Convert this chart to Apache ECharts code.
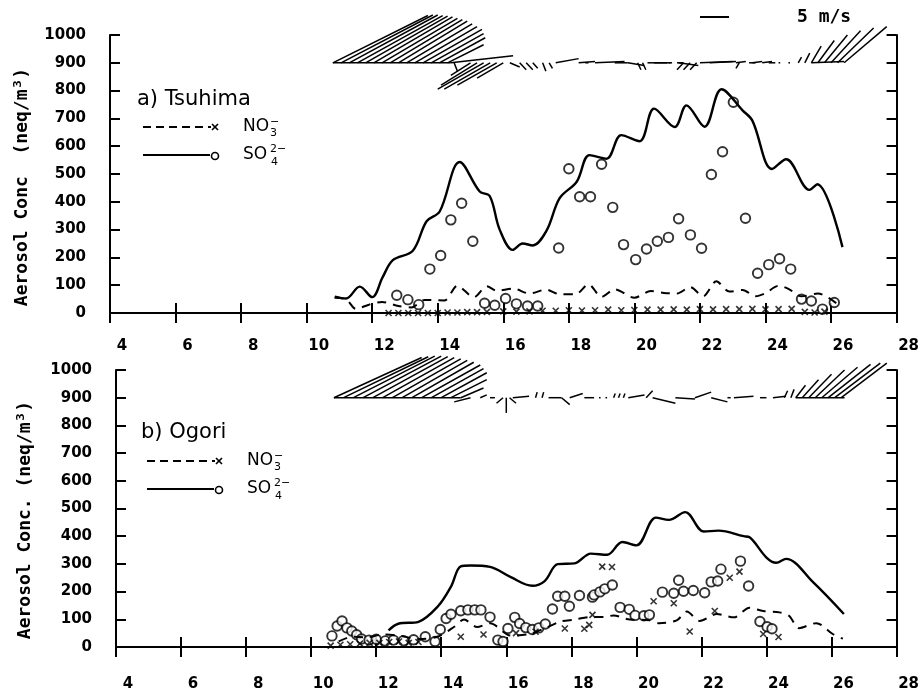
<!DOCTYPE html>
<html>
<head>
<meta charset="utf-8">
<script src="https://cdn.jsdelivr.net/npm/echarts@6/dist/echarts.min.js"></script>
<style>
  body{margin:0;background:#fff;}
  #main{width:922px;height:697px;}
</style>
</head>
<body>
<div id="main"></div>
<script>
// axis ranges (day of month, neq/m3)
const xMin = 4, xMax = 28, xStep = 2;
const yMin = 0, yMax = 1000, yStep = 100;
const windLevel = 900;

// ---- a) Tsuhima ----
const tsuSO4ModelT = [10.86,11.2,11.62,12.0,12.32,12.63,13.24,13.66,14.06,14.67,15.28,15.59,15.89,16.29,16.59,16.9,17.32,17.72,18.24,18.63,19.15,19.6,20.16,20.6,21.23,21.59,22.14,22.66,23.3,23.6,24.2,24.63,25.34,25.58,26.35];
const tsuSO4ModelV = [59,52,95,57,129,190,224,330,365,543,437,420,300,227,250,243,296,413,472,568,555,640,618,735,669,747,670,805,729,692,518,553,443,463,237];

const tsuNO3ModelT = [10.85,11.2,11.5,11.9,12.3,12.8,13.2,13.6,14.2,14.6,15.1,15.5,15.8,16.3,16.8,17.3,17.7,18.2,18.6,19.0,19.4,20.0,20.5,20.9,21.3,21.7,22.1,22.5,22.9,23.3,23.7,24.0,24.4,24.7,25.1,25.6,26.2];
const tsuNO3ModelV = [55,50,15,30,40,25,20,47,45,98,57,96,80,88,70,84,68,67,103,58,85,55,79,72,70,93,60,114,77,83,60,71,98,87,60,70,32];

const tsuSO4ObsT = [12.75,13.09,13.42,13.76,14.09,14.4,14.73,15.07,15.43,15.74,16.07,16.4,16.74,17.05,17.69,18.0,18.33,18.66,19.0,19.34,19.67,20.04,20.37,20.7,21.04,21.35,21.71,22.05,22.35,22.69,23.02,23.39,23.76,24.1,24.43,24.77,25.1,25.4,25.74,26.1];
const tsuSO4ObsV = [64,48,30,158,207,335,395,258,35,28,52,33,25,25,234,519,418,418,535,380,246,192,230,258,272,339,281,233,498,580,758,341,143,174,195,158,50,43,14,38];

const tsuNO3ObsT = [12.5,12.8,13.1,13.4,13.7,14.0,14.3,14.6,14.9,15.2,15.5,16.0,16.4,16.8,17.2,17.6,18.0,18.4,18.8,19.2,19.6,20.0,20.4,20.8,21.2,21.6,22.0,22.4,22.8,23.2,23.6,24.0,24.4,24.8,25.2,25.5,25.8];
const tsuNO3ObsV = [0,0,0,0,0,0,2,2,3,3,4,6,5,6,8,8,10,9,10,12,10,11,12,12,13,12,14,13,14,14,15,13,14,15,4,2,5];

// wind sticks: start day, length along x (days), length along y (conc units)
const tsuWindT  = [10.8,10.8,11.05,11.3,11.55,11.8,12.05,12.3,12.55,12.8,13.05,13.3,13.55,13.8,14.05,14.3,14.5,14.4,15.0,15.2,15.4,15.6,15.8,16.0,16.2,16.5,16.7,16.9,17.2,17.4,17.6,18.3,18.5,18.8,19.4,19.8,20.1,20.25,20.4,20.6,21.05,21.3,21.35,21.5,21.7,21.9,22.0,22.3,23.1,23.2,23.5,23.6,23.9,24.1,24.4,24.7,25.0,25.2,25.4,25.4,25.6,25.8,26.0,26.2,26.4];
const tsuWindDx = [3.6,2.9,2.8,2.7,2.6,2.5,2.4,2.3,2.2,2.1,2.0,1.9,1.8,1.6,1.4,1.1,0.1,1.9,-0.6,-1.1,-1.4,-1.4,-1.2,-0.8,0.3,0.2,0.2,0.15,0.1,0.1,0.7,0.5,0.1,0.9,0.4,0.5,0.1,0.1,0.6,0.5,0.1,0.2,0.6,-0.2,-0.2,-0.2,1.0,0.8,0.3,-0.1,0.2,0.3,0.3,0.2,0.05,0.05,0.1,0.15,1.0,0.3,0.5,0.7,0.9,1.1,1.3];
const tsuWindDy = [0,170,172,172,170,168,165,160,155,150,140,130,120,105,90,65,-30,25,-45,-80,-95,-95,-80,-55,-15,-25,-25,-20,-30,-20,15,5,0,5,0,-10,-25,-25,0,0,0,0,-10,-25,-25,-25,5,5,5,-20,0,5,5,0,0,0,20,35,5,60,80,100,115,125,130];

// ---- b) Ogori ----
const ogoSO4ModelT = [12.38,12.68,13.3,13.9,14.3,14.6,14.9,15.5,16.14,16.8,17.18,17.58,18.1,18.6,19.1,19.57,20.0,20.6,21.0,21.5,22.07,22.53,23.3,23.48,24.0,24.3,24.6,25.44,26.38];
const ogoSO4ModelV = [60,84,91,147,218,291,294,289,252,221,238,299,302,337,333,379,367,467,459,487,417,420,400,396,323,304,318,233,119];

const ogoNO3ModelT = [10.85,11.25,11.7,12.2,12.7,13.3,13.9,14.4,14.7,15.1,15.5,16.14,16.7,17.2,17.67,18.1,18.56,19.0,19.3,19.8,20.4,20.7,21.24,21.55,21.95,22.47,23.0,23.48,23.9,24.4,24.7,25.0,25.53,26.05,26.35];
const ogoNO3ModelV = [20,37,35,45,41,29,38,73,99,72,86,41,47,68,92,99,108,108,114,99,97,86,96,128,94,119,107,142,130,125,112,68,86,46,30];

const ogoSO4ObsT = [10.64,10.8,10.95,11.1,11.25,11.4,11.55,11.78,12.0,12.28,12.53,12.84,13.15,13.51,13.81,13.97,14.15,14.3,14.6,14.82,15.03,15.22,15.5,15.74,15.9,16.05,16.26,16.41,16.6,16.8,17.0,17.2,17.42,17.58,17.8,17.94,18.25,18.65,18.7,18.88,19.03,19.26,19.5,19.78,19.96,20.23,20.4,20.8,21.15,21.3,21.45,21.75,22.1,22.3,22.5,22.6,23.2,23.45,23.8,24.02,24.17];
const ogoSO4ObsV = [40,76,94,69,58,44,29,25,28,22,25,23,26,37,20,63,103,118,131,134,134,134,108,25,20,67,107,85,70,63,69,83,137,183,183,147,186,180,188,199,210,224,143,136,114,113,116,198,194,241,201,204,196,235,238,281,310,220,92,73,66];

const ogoNO3ObsT = [10.6,10.9,11.2,11.5,11.8,12.1,12.4,12.7,13.0,13.3,14.6,15.3,16.3,16.9,17.8,18.4,18.55,18.65,18.95,19.25,20.53,21.15,21.64,22.41,22.87,23.17,23.9,24.37];
const ogoNO3ObsV = [5,8,10,12,15,15,18,20,15,18,37,45,50,55,67,66,80,116,290,289,165,158,56,130,250,272,47,36];

const ogoWindT  = [10.7,10.7,11.0,11.3,11.6,11.9,12.2,12.5,12.8,13.1,13.4,13.7,14.0,14.3,14.6,14.9,15.2,15.5,15.9,16.0,16.1,16.2,16.9,17.1,17.3,17.7,17.95,18.4,18.85,19.05,19.3,19.45,19.6,19.75,20.3,20.5,21.2,21.8,22.3,22.8,23.0,23.8,24.2,24.55,24.75,24.9,24.9,25.1,25.3,25.5,25.7,25.9,26.1,26.3];
const ogoWindDx = [3.9,2.7,2.6,2.5,2.4,2.3,2.2,2.1,2.0,1.9,1.8,1.6,1.4,1.1,0.7,-0.5,0.2,0.15,-0.2,0.0,0.2,0.5,0.05,0.05,0.4,0.25,0.4,0.3,0.05,0.05,0.05,0.05,0.05,0.5,0.2,0.7,0.6,0.5,0.5,0.1,0.6,0.2,0.4,0.1,0.1,1.5,0.3,0.5,0.7,0.9,1.1,1.3,1.4,1.4];
const ogoWindDy = [0,145,148,150,150,148,145,140,135,128,118,105,90,65,35,-15,10,0,-20,-55,-20,5,20,20,0,-25,15,0,0,0,15,15,15,10,25,-20,-5,20,-15,0,5,0,5,25,30,0,45,65,85,100,110,120,125,125];

const zip = (a, b) => a.map((v, i) => [v, b[i]]);
const zip3 = (a, b, c) => a.map((v, i) => [v, b[i], c[i]]);

const grids = [
  {left: 110, right: 24, top: 35, height: 278},
  {left: 116, right: 22, top: 370, height: 277}
];

const labelFont = {fontFamily: 'DejaVu Sans', fontWeight: 'bold', fontSize: 15, color: '#000'};
const lineAxis = {lineStyle: {color: '#000', width: 2}};
const tickIn = {inside: true, length: 10, lineStyle: {color: '#000', width: 2}};

let xAxes = [], yAxes = [];
grids.forEach((g, i) => {
  xAxes.push({
    gridIndex: i, type: 'value', min: xMin, max: xMax, interval: xStep, position: 'bottom',
    axisLine: lineAxis, axisTick: tickIn, splitLine: {show: false},
    axisLabel: Object.assign({margin: i === 0 ? 26 : 30, padding: [0, 0, 0, 24], formatter: v => String(v)}, labelFont)
  });
  xAxes.push({
    gridIndex: i, type: 'value', min: xMin, max: xMax, interval: xStep, position: 'top',
    axisLine: lineAxis, axisTick: tickIn, splitLine: {show: false}, axisLabel: {show: false}
  });
  yAxes.push({
    gridIndex: i, type: 'value', min: yMin, max: yMax, interval: yStep, position: 'left',
    axisLine: lineAxis, axisTick: tickIn, splitLine: {show: false},
    axisLabel: Object.assign({margin: 24, formatter: v => String(v)}, labelFont)
  });
  yAxes.push({
    gridIndex: i, type: 'value', min: yMin, max: yMax, interval: yStep, position: 'right',
    axisLine: lineAxis, axisTick: tickIn, splitLine: {show: false}, axisLabel: {show: false}
  });
});

function windItem(params, api) {
  const t = api.value(0);
  const p0 = api.coord([t, windLevel]);
  const p1 = api.coord([t + api.value(1), windLevel + api.value(2)]);
  return {
    type: 'line',
    shape: {x1: p0[0], y1: p0[1], x2: p1[0], y2: p1[1]},
    style: {stroke: '#000', lineWidth: 1.5}
  };
}

const crossSymbol = 'path://M0,0L10,10M10,0L0,10';

function panelSeries(i, so4T, so4V, no3T, no3V, so4oT, so4oV, no3oT, no3oV, wT, wDx, wDy) {
  const ax = {xAxisIndex: i * 2, yAxisIndex: i * 2};
  return [
    Object.assign({
      name: 'SO4 model', type: 'line', data: zip(so4T, so4V), smooth: 0.35,
      showSymbol: false, lineStyle: {color: '#000', width: 2.4}
    }, ax),
    Object.assign({
      name: 'NO3 model', type: 'line', data: zip(no3T, no3V), smooth: 0.3,
      showSymbol: false, lineStyle: {color: '#000', width: 2, type: [9, 7]}
    }, ax),
    Object.assign({
      name: 'SO4 obs', type: 'scatter', data: zip(so4oT, so4oV), symbol: 'circle', symbolSize: 9.5,
      itemStyle: {color: '#fff', borderColor: '#000', borderWidth: 1.9}
    }, ax),
    Object.assign({
      name: 'NO3 obs', type: 'scatter', data: zip(no3oT, no3oV), symbol: crossSymbol, symbolSize: 6,
      itemStyle: {color: '#000', borderColor: '#000', borderWidth: 1.6}
    }, ax),
    Object.assign({
      name: 'wind', type: 'custom', data: zip3(wT, wDx, wDy), renderItem: windItem, clip: false, silent: true
    }, ax)
  ];
}

const series = [].concat(
  panelSeries(0, tsuSO4ModelT, tsuSO4ModelV, tsuNO3ModelT, tsuNO3ModelV, tsuSO4ObsT, tsuSO4ObsV, tsuNO3ObsT, tsuNO3ObsV, tsuWindT, tsuWindDx, tsuWindDy),
  panelSeries(1, ogoSO4ModelT, ogoSO4ModelV, ogoNO3ModelT, ogoNO3ModelV, ogoSO4ObsT, ogoSO4ObsV, ogoNO3ObsT, ogoNO3ObsV, ogoWindT, ogoWindDx, ogoWindDy)
);

// legend blocks drawn by hand (line + marker + ion name with sub/superscripts)
function legendBlock(title, x, yTitle, yNo3, ySo4) {
  const txt = (s, px, py, size) => ({
    type: 'text', x: px, y: py,
    style: {text: s, fontFamily: 'DejaVu Sans', fontSize: size, fill: '#000', verticalAlign: 'middle'}
  });
  const seg = (x1, y1, x2, y2, w, dash) => ({
    type: 'line', shape: {x1: x1, y1: y1, x2: x2, y2: y2},
    style: {stroke: '#000', lineWidth: w, lineDash: dash || null}
  });
  return [
    txt(title, x - 6, yTitle, 21),
    seg(x, yNo3, x + 68, yNo3, 2, [8, 5]),
    seg(x + 69, yNo3 - 3, x + 75, yNo3 + 3, 1.6),
    seg(x + 75, yNo3 - 3, x + 69, yNo3 + 3, 1.6),
    txt('NO', x + 100, yNo3, 17),
    txt('3', x + 127, yNo3 + 6, 11),
    txt('−', x + 127, yNo3 - 5, 11),
    seg(x, ySo4, x + 67, ySo4, 2),
    {type: 'circle', shape: {cx: x + 72, cy: ySo4 + 1, r: 3.5}, style: {stroke: '#000', lineWidth: 1.6, fill: '#fff'}},
    txt('SO', x + 100, ySo4, 17),
    txt('4', x + 128, ySo4 + 7, 11),
    txt('2−', x + 127, ySo4 - 6, 11)
  ];
}

const graphics = [].concat(
  legendBlock('a) Tsuhima', 143, 100, 127, 155),
  legendBlock('b) Ogori', 147, 433, 461, 489),
  [
    {type: 'text', x: 22, y: 187, rotation: Math.PI / 2,
     style: {text: 'Aerosol Conc  (neq/m³)', fontFamily: 'DejaVu Sans Mono', fontWeight: 'bold', fontSize: 18, fill: '#000', align: 'center', verticalAlign: 'middle'}},
    {type: 'text', x: 25, y: 520, rotation: Math.PI / 2,
     style: {text: 'Aerosol Conc. (neq/m³)', fontFamily: 'DejaVu Sans Mono', fontWeight: 'bold', fontSize: 18, fill: '#000', align: 'center', verticalAlign: 'middle'}},
    {type: 'line', shape: {x1: 700, y1: 17, x2: 729, y2: 17}, style: {stroke: '#000', lineWidth: 2}},
    {type: 'text', x: 797, y: 17,
     style: {text: '5 m/s', fontFamily: 'DejaVu Sans Mono', fontWeight: 'bold', fontSize: 18, fill: '#000', verticalAlign: 'middle'}}
  ]
);

const chart = echarts.init(document.getElementById('main'), null, {renderer: 'canvas'});
chart.setOption({
  animation: false,
  backgroundColor: '#fff',
  grid: grids,
  xAxis: xAxes,
  yAxis: yAxes,
  series: series,
  graphic: graphics
});
</script>
</body>
</html>
